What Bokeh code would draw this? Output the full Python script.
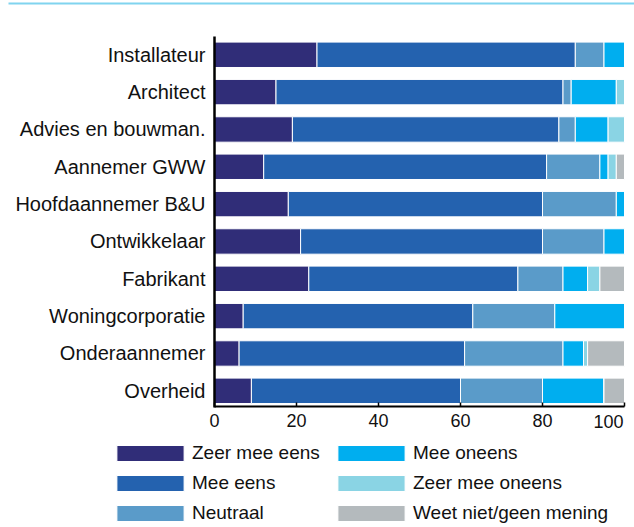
from bokeh.plotting import figure
from bokeh.models import (ColumnDataSource, FixedTicker, Range1d, Legend, LegendItem,
                          BoxAnnotation, Label)
from bokeh.embed import file_html
from bokeh.resources import INLINE

categories = ["Installateur", "Architect", "Advies en bouwman.", "Aannemer GWW",
              "Hoofdaannemer B&U", "Ontwikkelaar", "Fabrikant", "Woningcorporatie",
              "Onderaannemer", "Overheid"]
series_names = ["Zeer mee eens", "Mee eens", "Neutraal", "Mee oneens",
                "Zeer mee oneens", "Weet niet/geen mening"]
zeer_mee_eens = [25, 15, 19, 12, 18, 21, 23, 7, 6, 9]
mee_eens = [63, 70, 65, 69, 62, 59, 51, 56, 55, 51]
neutraal = [7, 2, 4, 13, 18, 15, 11, 20, 24, 20]
mee_oneens = [5, 11, 8, 2, 2, 5, 6, 17, 5, 15]
zeer_mee_oneens = [0, 2, 4, 2, 0, 0, 3, 0, 1, 0]
weet_niet = [0, 0, 0, 2, 0, 0, 6, 0, 9, 5]
x_ticks = [0, 20, 40, 60, 80, 100]
x_tick_labels = ["0", "20", "40", "60", "80", "100"]

colors = ["#302D78", "#2462AF", "#5A9BC9", "#00AEEF", "#8AD4E4", "#B4BABD"]
keys = ["s0", "s1", "s2", "s3", "s4", "s5"]

FONT = "Liberation Sans"
TXT = "#111111"

# ---- layout: the frame fills the whole canvas, axes are pinned inside it ----
W, H = 634, 527
X0_PX, X100_PX = 214, 624          # pixel columns of x = 0 and x = 100
Y_TOP_PX, Y_BOT_PX = 36, 406       # pixel rows of the axis-box top / x-axis line
Y_TOP, Y_BOT = 9.49, -0.42         # data values at those rows
xs = (X100_PX - X0_PX) / 100.0
ys = (Y_BOT_PX - Y_TOP_PX) / (Y_TOP - Y_BOT)
x_start, x_end = -X0_PX / xs, 100 + (W - X100_PX) / xs
y_end, y_start = Y_TOP + Y_TOP_PX / ys, Y_BOT - (H - Y_BOT_PX) / ys

def x_at(px):
    return x_start + px / xs

def y_at(py):
    return y_end - py / ys

n = len(categories)
ypos = [n - 1 - i for i in range(n)]
source = ColumnDataSource(dict(y=ypos, s0=zeer_mee_eens, s1=mee_eens, s2=neutraal,
                               s3=mee_oneens, s4=zeer_mee_oneens, s5=weet_niet))

p = figure(width=W, height=H, output_backend="svg", toolbar_location=None,
           x_range=Range1d(x_start, x_end), y_range=Range1d(y_start, y_end),
           min_border=0, min_border_left=0, min_border_right=0,
           min_border_top=0, min_border_bottom=0)
p.outline_line_color = None
p.grid.visible = False

renderers = p.hbar_stack(keys, y="y", height=0.68, color=colors, source=source,
                         line_color="white", line_width=1)

# y axis
ya = p.yaxis[0]
ya.fixed_location = 0
ya.bounds = (Y_BOT - 1.0 / ys, Y_TOP)
ya.ticker = FixedTicker(ticks=ypos)
ya.major_label_overrides = {ypos[i]: categories[i] for i in range(n)}
ya.major_tick_line_color = None
ya.minor_tick_line_color = None
ya.major_tick_in = 0
ya.major_tick_out = 0
ya.axis_line_width = 2.5
ya.axis_line_color = "black"
ya.major_label_standoff = 9
ya.major_label_text_font = FONT
ya.major_label_text_font_size = "20px"
ya.major_label_text_color = TXT

# x axis
xa = p.xaxis[0]
xa.fixed_location = Y_BOT
xa.bounds = (0, 100)
overrides = {t: l for t, l in zip(x_ticks, x_tick_labels)}
overrides[100] = ""        # drawn flush-right below
xa.ticker = FixedTicker(ticks=x_ticks)
xa.major_label_overrides = overrides
xa.minor_tick_line_color = None
xa.major_tick_in = 4
xa.major_tick_out = 0
xa.major_tick_line_width = 1.5
xa.major_tick_line_color = "black"
xa.axis_line_width = 2
xa.axis_line_color = "black"
xa.major_label_standoff = 7
xa.major_label_text_font = FONT
xa.major_label_text_font_size = "18px"
xa.major_label_text_color = TXT

p.add_layout(Label(x=x_ticks[-1], y=Y_BOT, text=x_tick_labels[-1], text_align="right",
                   text_baseline="top", x_offset=-1, y_offset=-8, text_font=FONT,
                   text_font_size="18px", text_color=TXT))

# light-blue rule at the top
p.add_layout(BoxAnnotation(left=x_at(8), right=x_end, top=y_at(2), bottom=y_at(4),
                           fill_color="#80D4EF", fill_alpha=1, line_color=None))

def make_legend(idx, loc):
    items = [LegendItem(label=series_names[i], renderers=[renderers[i]]) for i in idx]
    return Legend(items=items, location=loc, orientation="vertical",
                  glyph_width=84, glyph_height=20, label_height=20, spacing=8,
                  label_standoff=-1, padding=0, margin=0,
                  border_line_color=None, background_fill_alpha=0,
                  label_text_font=FONT, label_text_font_size="19px",
                  label_text_color=TXT)

p.add_layout(make_legend([0, 1, 2], (108, 3)))
p.add_layout(make_legend([3, 4, 5], (329, 3)))

open("out.html", "w").write(file_html(p, INLINE))
